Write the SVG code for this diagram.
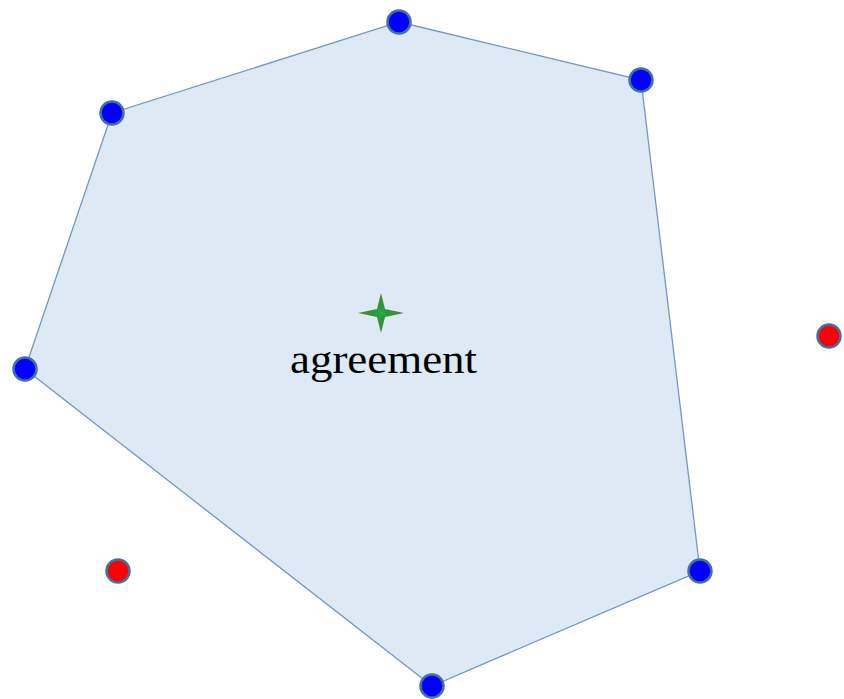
<svg xmlns="http://www.w3.org/2000/svg" width="844" height="699" viewBox="0 0 844 699">
  <defs>
    <radialGradient id="starGrad" cx="0.5" cy="0.5" r="0.5">
      <stop offset="0" stop-color="#1fae4a"/>
      <stop offset="0.3" stop-color="#2e963a"/>
      <stop offset="1" stop-color="#4e862c"/>
    </radialGradient>
  </defs>
  <style>
    .hull { fill: #dde9f5; stroke: #7398bf; stroke-width: 1.3; }
    .pt { stroke: #41719c; stroke-width: 2.5; }
    .in { fill: #0000ff; }
    .out { fill: #ff0000; }
    .lbl { font-family: "Liberation Serif", "DejaVu Serif", serif; font-size: 40px; fill: #000; }
  </style>
  <rect width="844" height="699" fill="#ffffff"/>
  <g id="connectors">
    <polygon class="hull" points="399,22 641,80 700,571 432,686 25,369 112,113"/>
  </g>
  <g id="center">
    <path d="M381,293 L385,309 L404,313 L385,317 L381,333 L377,317 L358,313 L377,309 Z" fill="url(#starGrad)"/>
    <text class="lbl" x="290" y="373" textLength="187" lengthAdjust="spacingAndGlyphs">agreement</text>
  </g>
  <g id="p1"><circle class="pt in" cx="399" cy="22" r="11.5"/></g>
  <g id="p2"><circle class="pt in" cx="641" cy="80" r="11.5"/></g>
  <g id="p3"><circle class="pt in" cx="700" cy="571" r="11.5"/></g>
  <g id="p4"><circle class="pt in" cx="432" cy="686" r="11.5"/></g>
  <g id="p5"><circle class="pt in" cx="25" cy="369" r="11.5"/></g>
  <g id="p6"><circle class="pt in" cx="112" cy="113" r="11.5"/></g>
  <g id="r1"><circle class="pt out" cx="118" cy="571" r="11.5"/></g>
  <g id="r2"><circle class="pt out" cx="829" cy="336" r="11.5"/></g>
</svg>
